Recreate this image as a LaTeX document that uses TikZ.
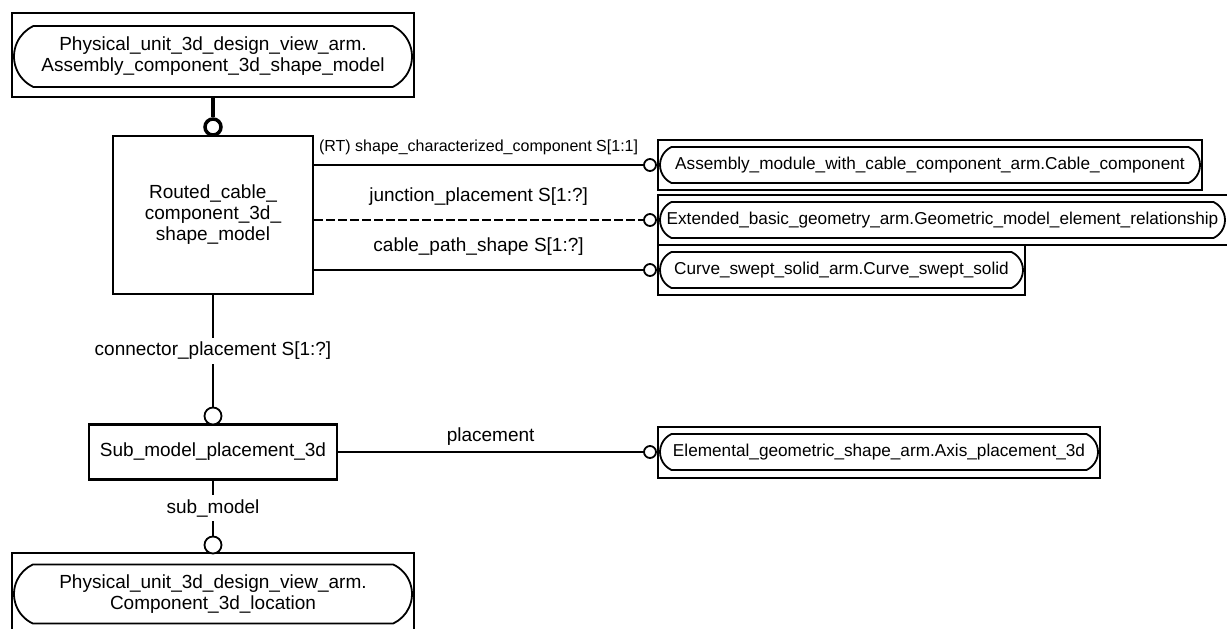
\documentclass[tikz,border=0pt]{standalone}
\usepackage{fontspec}
\setmainfont{Liberation Sans}
\usetikzlibrary{shapes.misc,positioning}
\newcommand{\entfont}{\fontsize{19}{21}\selectfont}
\newcommand{\reffont}{\fontsize{17.2}{20}\selectfont}
\newcommand{\rtfont}{\fontsize{16}{18}\selectfont}
\tikzset{
entitybox/.style={draw, line width=2.2pt, inner sep=0pt, align=center},
schemabox/.style={draw, line width=2pt, rectangle, inner sep=0pt},
schemaname/.style={draw, line width=1.8pt, rounded rectangle, rounded rectangle arc length=130,
    inner sep=0pt, align=center},
ring/.style={circle, draw, fill=white, inner sep=0pt, line width=#1},
ring/.default=1.8pt,
rel/.style={line width=1.8pt},
subtype/.style={line width=4pt},
optional rel/.style={rel, dash pattern=on 9pt off 3pt},
rolename/.style={inner sep=1pt},
cutlabel/.style={rolename, fill=white, inner ysep=4pt},
}
\tikzstyle{every node}=[font=\entfont]

\begin{document}
\begin{tikzpicture}[x=1pt,y=-1pt]
        \useasboundingbox (0,0) rectangle (1227,629);

        % entities of the schema
        \node[entitybox, minimum width=200, minimum height=158] (routed) at (213,215)
            {Routed\_cable\_\\component\_3d\_\\shape\_model};
        \node[entitybox, minimum width=248, minimum height=55] (submodel) at (213,452)
            {Sub\_model\_placement\_3d};

        % entities of other schemas
        \node[schemabox, minimum width=402, minimum height=84] (shapemodel) at (213,55) {};
        \node[schemaname, minimum width=398, minimum height=61] (shapemodelname) at (213,56.5)
            {Physical\_unit\_3d\_design\_view\_arm.\\Assembly\_component\_3d\_shape\_model};
        \node[schemabox, minimum width=402, minimum height=84] (location) at (213,595) {};
        \node[schemaname, minimum width=398, minimum height=59] (locationname) at (213,594)
            {Physical\_unit\_3d\_design\_view\_arm.\\Component\_3d\_location};

        \begin{scope}[every node/.style={font=\reffont}]
            \node[schemabox, minimum width=544, minimum height=50] (cable) at (930,165) {};
            \node[schemaname, minimum width=540, minimum height=36] (cablename) at (930,165)
                {Assembly\_module\_with\_cable\_component\_arm.Cable\_component};
            \node[schemabox, minimum width=574, minimum height=50] (geomrel) at (945,220) {};
            \node[schemaname, minimum width=565, minimum height=36] (geomrelname) at (942.5,220)
                {Extended\_basic\_geometry\_arm.Geometric\_model\_element\_relationship};
            \node[schemabox, minimum width=367, minimum height=50] (swept) at (841.5,270) {};
            \node[schemaname, minimum width=363, minimum height=36] (sweptname) at (841.5,270)
                {Curve\_swept\_solid\_arm.Curve\_swept\_solid};
            \node[schemabox, minimum width=442, minimum height=51] (axis) at (879,452) {};
            \node[schemaname, minimum width=438, minimum height=36] (axisname) at (879,452)
                {Elemental\_geometric\_shape\_arm.Axis\_placement\_3d};
        \end{scope}

        % relationship ends
        \node[ring=3.5pt, minimum size=16] (supring) at (213,127) {};
        \node[ring, minimum size=17] (cpring) at (213,416) {};
        \node[ring, minimum size=17] (smring) at (213,545) {};
        \node[ring, minimum size=12] (cablering) at (650,165) {};
        \node[ring, minimum size=12] (geomring) at (650,220) {};
        \node[ring, minimum size=12] (sweptring) at (650,270) {};
        \node[ring, minimum size=12] (axisring) at (650,452) {};

        % relationships
        \draw[subtype] (shapemodel.south) -- (supring.north);
        \draw[rel] (routed.east |- cablering) -- (cablering.west)
            node[midway, above=8.5pt, rolename, font=\rtfont] {(RT) shape\_characterized\_component S[1:1]};
        \draw[optional rel] (routed.east |- geomring) -- (geomring.west)
            node[midway, above=13pt, rolename] {junction\_placement S[1:?]};
        \draw[rel] (routed.east |- sweptring) -- (sweptring.west)
            node[midway, above=13pt, rolename] {cable\_path\_shape S[1:?]};
        \draw[rel] (routed.south) -- (cpring.north)
            node[midway, cutlabel] {connector\_placement S[1:?]};
        \draw[rel] (submodel.east) -- (axisring.west)
            node[midway, above=4.8pt, rolename] {placement};
        \draw[rel] (submodel.south) -- (smring.north)
            node[midway, cutlabel] {sub\_model};
\end{tikzpicture}
\end{document}
